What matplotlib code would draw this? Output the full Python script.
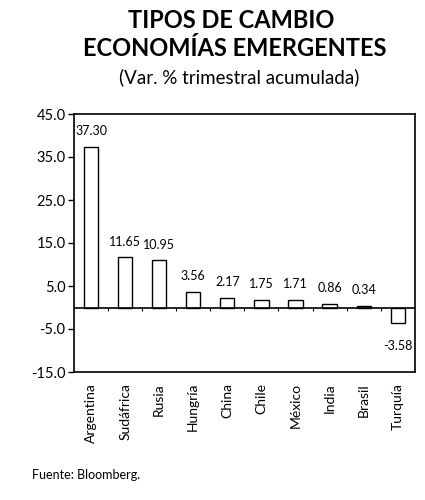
import numpy as np
import matplotlib.pyplot as plt

# data
paises = ["Argentina", "Sudáfrica", "Rusia", "Hungría", "China",
          "Chile", "México", "India", "Brasil", "Turquía"]
variacion = [37.30, 11.65, 10.95, 3.56, 2.17, 1.75, 1.71, 0.86, 0.34, -3.58]
yticks = [-15.0, -5.0, 5.0, 15.0, 25.0, 35.0, 45.0]

plt.rcParams["font.family"] = ["Lato", "DejaVu Sans"]

fig = plt.figure(figsize=(4.25, 5), dpi=100)
ax = fig.add_axes([0.174, 0.256, 0.802, 0.516])

x = np.arange(len(paises))
ax.bar(x, variacion, width=0.42, color="white", edgecolor="black", linewidth=1.0)

# zero line with small ticks between categories
ax.axhline(0, color="black", linewidth=1.2)
ax.vlines(x[1:] - 0.5, -0.9, 0, color="black", linewidth=0.8)

for xi, v in zip(x, variacion):
    if v >= 0:
        ax.annotate(f"{v:.2f}", (xi, v), xytext=(0, 7), textcoords="offset points",
                    ha="center", va="bottom", fontsize=9)
    else:
        ax.annotate(f"{v:.2f}", (xi, v), xytext=(0, -12), textcoords="offset points",
                    ha="center", va="top", fontsize=9)

ax.set_xlim(-0.5, len(paises) - 0.5)
ax.set_ylim(-15, 45)
ax.set_yticks(yticks)
ax.set_yticklabels([f"{t:.1f}" for t in yticks], fontsize=10.5)
ax.set_xticks(x)
ax.set_xticklabels(paises, rotation=90, fontsize=10)
ax.tick_params(axis="x", length=0, pad=8)
ax.tick_params(axis="y", length=4, width=1.0, direction="out", pad=2)
for s in ax.spines.values():
    s.set_linewidth(1.2)

fig.text(0.545, 0.958, "TIPOS DE CAMBIO", ha="center", va="center",
         fontsize=17, fontweight="bold")
fig.text(0.552, 0.903, "ECONOMÍAS EMERGENTES", ha="center", va="center",
         fontsize=17, fontweight="bold")
fig.text(0.563, 0.845, "(Var. % trimestral acumulada)", ha="center", va="center",
         fontsize=13.5)
fig.text(0.075, 0.05, "Fuente: Bloomberg.", ha="left", va="center", fontsize=9)

fig.savefig("out.png", dpi=100)
